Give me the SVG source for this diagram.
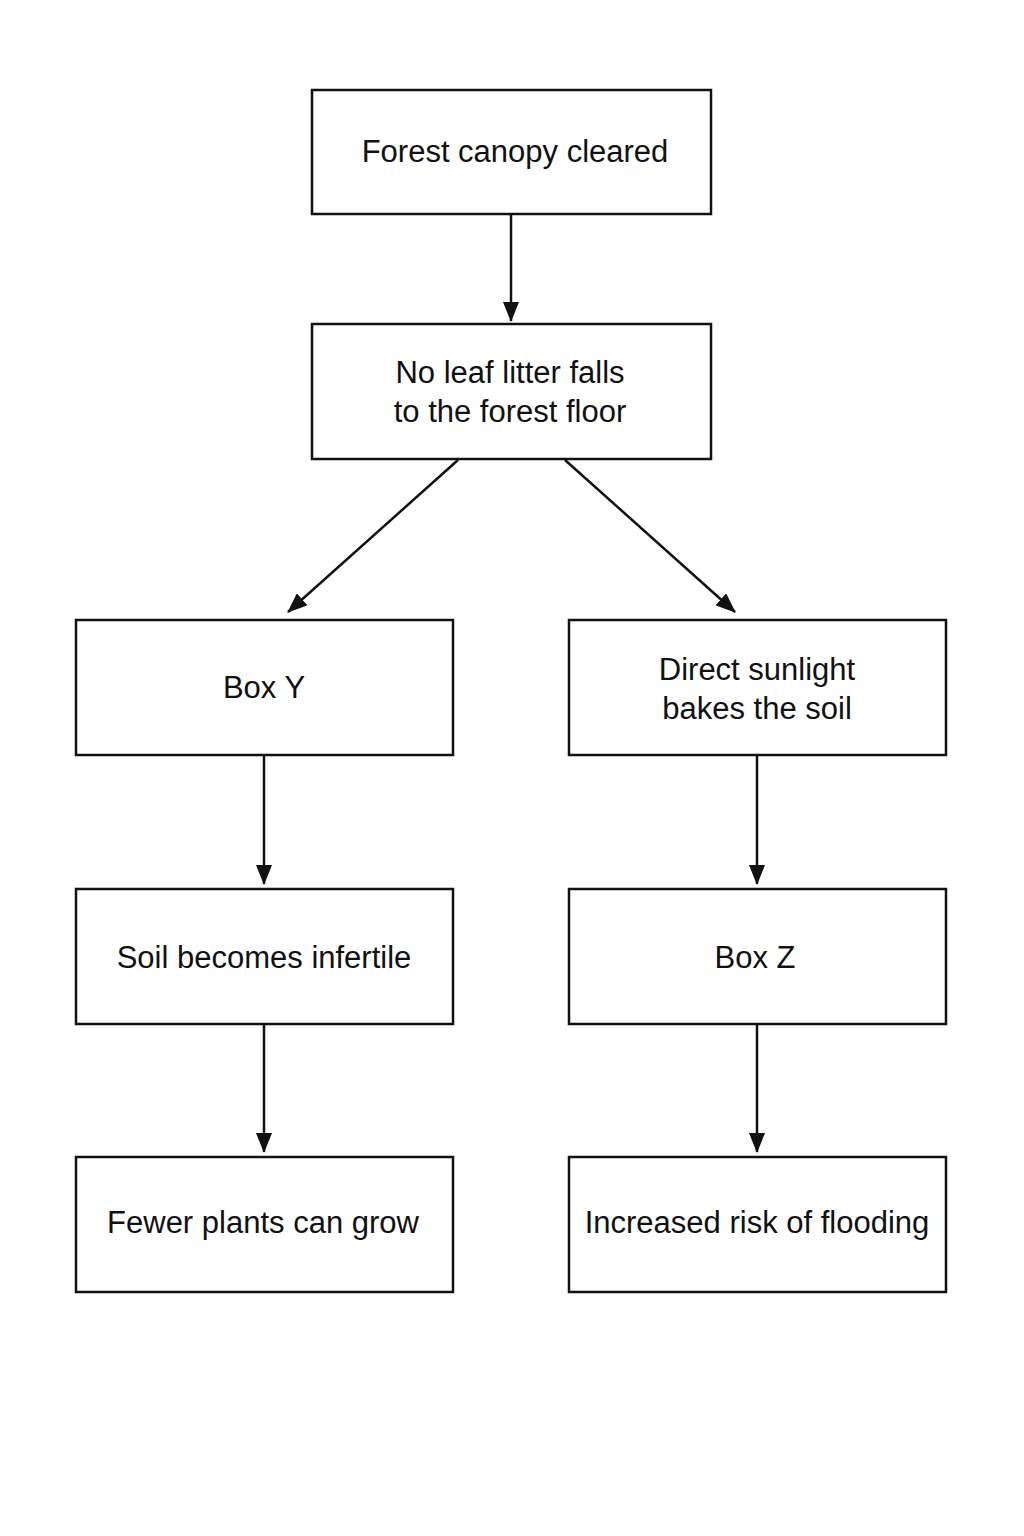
<svg xmlns="http://www.w3.org/2000/svg" width="1024" height="1536" viewBox="0 0 1024 1536">
<style>
.b{fill:#fff;stroke:#111;stroke-width:2.5}
.t{font-family:"Liberation Sans",Arial,sans-serif;font-size:31px;fill:#111;text-anchor:middle}
.c{stroke:#111;stroke-width:2.5;fill:none;marker-end:url(#a)}
</style>
<defs><marker id="a" markerWidth="20" markerHeight="16" refX="19" refY="8" orient="auto" markerUnits="userSpaceOnUse" viewBox="0 0 20 16"><path d="M0,0L20,8L0,16z" fill="#111"/></marker></defs>
<rect width="1024" height="1536" fill="#fff"/>
<g id="connectors">
<line class="c" x1="511" y1="214" x2="511" y2="321"/>
<line class="c" x1="458" y1="460" x2="288" y2="612"/>
<line class="c" x1="565" y1="460" x2="735" y2="612"/>
<line class="c" x1="264" y1="755" x2="264" y2="884"/>
<line class="c" x1="757" y1="755" x2="757" y2="884"/>
<line class="c" x1="264" y1="1024" x2="264" y2="1152"/>
<line class="c" x1="757" y1="1024" x2="757" y2="1152"/>
</g>
<g id="n1"><rect class="b" x="312" y="90" width="399" height="124"/><text class="t" x="515" y="162">Forest canopy cleared</text></g>
<g id="n2"><rect class="b" x="312" y="324" width="399" height="135"/><text class="t" x="510" y="383">No leaf litter falls</text><text class="t" x="510" y="422">to the forest floor</text></g>
<g id="n3"><rect class="b" x="76" y="620" width="377" height="135"/><text class="t" x="264" y="698">Box Y</text></g>
<g id="n4"><rect class="b" x="569" y="620" width="377" height="135"/><text class="t" x="757" y="680">Direct sunlight</text><text class="t" x="757" y="719">bakes the soil</text></g>
<g id="n5"><rect class="b" x="76" y="889" width="377" height="135"/><text class="t" x="264" y="968">Soil becomes infertile</text></g>
<g id="n6"><rect class="b" x="569" y="889" width="377" height="135"/><text class="t" x="755" y="968">Box Z</text></g>
<g id="n7"><rect class="b" x="76" y="1157" width="377" height="135"/><text class="t" x="263" y="1233">Fewer plants can grow</text></g>
<g id="n8"><rect class="b" x="569" y="1157" width="377" height="135"/><text class="t" x="757" y="1233">Increased risk of flooding</text></g>
</svg>
